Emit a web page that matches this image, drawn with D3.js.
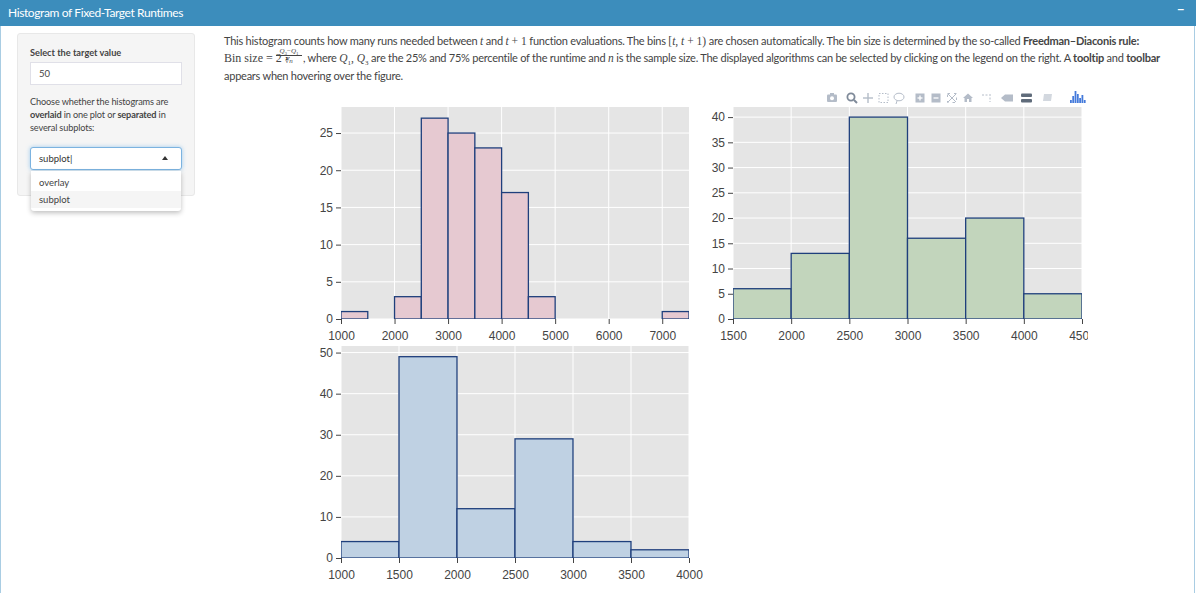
<!DOCTYPE html>
<html>
<head>
<meta charset="utf-8">
<title>Histogram of Fixed-Target Runtimes</title>
<script src="https://d3js.org/d3.v7.min.js"></script>
<style>
  html, body { margin: 0; padding: 0; background: #fff; overflow: hidden; }
  body { width: 1196px; height: 593px; position: relative; font-family: Lato, "Noto Sans", sans-serif; color: #444; font-size: 11px; letter-spacing: -0.24px; }
  .abs { position: absolute; white-space: nowrap; }
  #header { left: 0; top: 0; width: 1196px; height: 26px; background: #3c8dbc; color: #fff; font-size: 12px; line-height: 25px; text-indent: 8px; letter-spacing: -0.39px; }
  #edgeL { left: 0; top: 26px; width: 1px; height: 567px; background: #a9cde3; }
  #edgeR { left: 1194px; top: 26px; width: 1px; height: 567px; background: #a9cde3; }
  #well { left: 17px; top: 33px; width: 176px; height: 161px; background: #f5f5f5; border: 1px solid #e8e8e8; border-radius: 3px; }
  .side { left: 30px; font-size: 9.2px; letter-spacing: -0.15px; }
  .box { left: 30px; width: 150px; height: 21px; background: #fff; border: 1px solid #e0e0e8; line-height: 21px; text-indent: 8px; font-size: 9.5px; box-sizing: content-box; letter-spacing: 0; }
  #sel { top: 147px; border: 1px solid #7cb3e0; border-radius: 3px; box-shadow: 0 0 4px rgba(102,175,233,.6); color: #333; }
  #drop { left: 31px; top: 171px; width: 150px; height: 40px; background: #fff; box-shadow: 0 2px 5px rgba(0,0,0,.25); font-size: 9.5px; border-radius: 0 0 3px 3px; letter-spacing: 0; }
  .math { font-family: "Liberation Serif", serif; font-size: 11.5px; letter-spacing: 0; }
  .math sub { font-size: 7px; line-height: 0; }
  svg.plot { position: absolute; overflow: hidden; }
  svg.plot text { font-family: "Liberation Sans", Arial, sans-serif; font-size: 12px; fill: #444; letter-spacing: 0; }
  #tools { left: 0; top: 0; }
  .frac { position: absolute; text-align: center; font-family: "Liberation Serif", serif; font-size: 7px; line-height: 7px; letter-spacing: 0; }
  .frac sub { font-size: 5px; line-height: 0; }
</style>
</head>
<body>
<div class="abs" id="header">Histogram of Fixed-Target Runtimes</div>
<div style="position:absolute;left:1177px;top:1px;color:#fff;font-size:13px;font-weight:bold">−</div>
<div class="abs" id="edgeL"></div>
<div class="abs" id="edgeR"></div>
<div class="abs" id="well"></div>
<div class="abs side" style="top:47px;letter-spacing:0"><b>Select the target value</b></div>
<div class="abs box" style="top:62px">50</div>
<div class="abs side" style="top:96px">Choose whether the histograms are</div>
<div class="abs side" style="top:109px"><b>overlaid</b> in one plot or <b>separated</b> in</div>
<div class="abs side" style="top:122px">several subplots:</div>
<div class="abs box" id="sel">subplot|</div>
<div style="position:absolute;left:162px;top:156px;width:0;height:0;border-left:3.5px solid transparent;border-right:3.5px solid transparent;border-bottom:4px solid #333"></div>
<div class="abs" id="drop">
  <div style="height:20px;line-height:24px;text-indent:8px">overlay</div>
  <div style="height:17px;line-height:17px;text-indent:8px;background:#f5f5f5">subplot</div>
</div>
<div class="abs" id="l1" style="left:224px;top:34px">This histogram counts how many runs needed between <span class="math"><i>t</i></span> and <span class="math"><i>t</i> + 1</span> function evaluations. The bins <span class="math">[<i>t</i>, <i>t</i> + 1)</span> are chosen automatically. The bin size is determined by the so-called <b>Freedman–Diaconis rule:</b></div>
<div class="abs math" style="left:224px;top:51px;font-size:12px">Bin size = 2</div>
<div class="frac" style="left:276px;top:48px;width:26px;height:7px;border-bottom:1px solid #444"><i>Q</i><sub>3</sub>−<i>Q</i><sub>1</sub></div>
<div class="frac" style="left:276px;top:58px;width:26px">∛<i>n</i></div>
<div class="abs" id="l2" style="left:303px;top:51px">, where <span class="math"><i>Q</i><sub>1</sub>, <i>Q</i><sub>3</sub></span> are the 25% and 75% percentile of the runtime and <span class="math"><i>n</i></span> is the sample size. The displayed algorithms can be selected by clicking on the legend on the right. A <b>tooltip</b> and <b>toolbar</b></div>
<div class="abs" id="l3" style="left:224px;top:69px">appears when hovering over the figure.</div>
<svg id="tools" class="plot" width="1196" height="120"></svg>

<script>
// histogram bins
const binStartA = [1000, 2000, 2500, 3000, 3500, 4000, 4500, 7000];
const countsA = [1, 3, 27, 25, 23, 17, 3, 1];
const xTicksA = [1000, 2000, 3000, 4000, 5000, 6000, 7000];
const yTicksA = [0, 5, 10, 15, 20, 25];

const binStartB = [1500, 2000, 2500, 3000, 3500, 4000];
const countsB = [6, 13, 40, 16, 20, 5];
const xTicksB = [1500, 2000, 2500, 3000, 3500, 4000, 4500];
const yTicksB = [0, 5, 10, 15, 20, 25, 30, 35, 40];

const binStartC = [1000, 1500, 2000, 2500, 3000, 3500];
const countsC = [4, 49, 12, 29, 4, 2];
const xTicksC = [1000, 1500, 2000, 2500, 3000, 3500, 4000];
const yTicksC = [0, 10, 20, 30, 40, 50];

const binSize = 500;

function histogram(cfg) {
    const m = { left: 50, top: 2, bottom: 34 };
    const svg = d3.select("body").append("svg")
        .attr("class", "plot")
        .style("left", (cfg.x - m.left) + "px")
        .style("top", (cfg.y - m.top) + "px")
        .attr("width", m.left + cfg.w + cfg.pad)
        .attr("height", m.top + cfg.h + m.bottom);
    const g = svg.append("g").attr("transform", `translate(${m.left},${m.top})`);

    const x = d3.scaleLinear().domain(cfg.xDomain).range([0, cfg.w]);
    const y = d3.scaleLinear().domain(cfg.yDomain).range([cfg.h, 0]);

    g.append("rect").attr("width", cfg.w).attr("height", cfg.h).attr("fill", "#e5e5e5");

    g.append("g").selectAll("line").data(cfg.xTicks).join("line")
        .attr("x1", d => x(d)).attr("x2", d => x(d))
        .attr("y1", 0).attr("y2", cfg.h)
        .attr("stroke", "#fff");
    g.append("g").selectAll("line").data(cfg.yTicks).join("line")
        .attr("y1", d => y(d)).attr("y2", d => y(d))
        .attr("x1", 0).attr("x2", cfg.w)
        .attr("stroke", "#fff");

    // bars get clipped at the plot area, so the outer edges come out thin
    svg.append("clipPath").attr("id", cfg.id)
        .append("rect").attr("width", cfg.w).attr("height", cfg.h);
    g.append("g").attr("clip-path", `url(#${cfg.id})`)
        .selectAll("rect").data(cfg.starts).join("rect")
        .attr("x", d => x(d))
        .attr("width", d => x(d + binSize) - x(d))
        .attr("y", (d, i) => y(cfg.counts[i]))
        .attr("height", (d, i) => y(0) - y(cfg.counts[i]))
        .attr("fill", cfg.fill)
        .attr("stroke", "#1f3f7c")
        .attr("stroke-width", 1.3);

    const xAxis = g.append("g").attr("transform", `translate(0,${cfg.h})`)
        .call(d3.axisBottom(x).tickValues(cfg.xTicks).tickFormat(d3.format("d")).tickSize(5).tickPadding(7));
    const yAxis = g.append("g")
        .call(d3.axisLeft(y).tickValues(cfg.yTicks).tickSize(5).tickPadding(3));
    xAxis.select(".domain").remove();
    yAxis.select(".domain").remove();
    g.selectAll(".tick line").attr("stroke", "#444");
}

histogram({ id: "clipA", x: 341, y: 107, w: 348, h: 212, pad: 20, xDomain: [1000, 7500], yDomain: [0, 28.5],
    starts: binStartA, counts: countsA, xTicks: xTicksA, yTicks: yTicksA, fill: "#e6c9d1" });
histogram({ id: "clipB", x: 733, y: 107, w: 349, h: 212, pad: 6, xDomain: [1500, 4500], yDomain: [0, 42],
    starts: binStartB, counts: countsB, xTicks: xTicksB, yTicks: yTicksB, fill: "#c2d5bc" });
histogram({ id: "clipC", x: 341, y: 346, w: 348, h: 212, pad: 20, xDomain: [1000, 4000], yDomain: [0, 51.6],
    starts: binStartC, counts: countsC, xTicks: xTicksC, yTicks: yTicksC, fill: "#bfd1e3" });

// modebar icons
const tools = d3.select("#tools");
const ic = "#b4bcc8";
const camera = tools.append("g").attr("transform", "translate(832,98)");
camera.append("rect").attr("x", -5).attr("y", -3.5).attr("width", 10).attr("height", 7.5).attr("rx", 1).attr("fill", ic);
camera.append("rect").attr("x", -2).attr("y", -5).attr("width", 4).attr("height", 2).attr("fill", ic);
camera.append("circle").attr("r", 2).attr("cy", 0.3).attr("fill", "#fff");
const zoomI = tools.append("g").attr("transform", "translate(852,98)");
zoomI.append("circle").attr("cx", -1).attr("cy", -1).attr("r", 3.6).attr("fill", "none").attr("stroke", "#7f8a99").attr("stroke-width", 1.8);
zoomI.append("line").attr("x1", 2).attr("y1", 2).attr("x2", 5).attr("y2", 5).attr("stroke", "#7f8a99").attr("stroke-width", 2);
const pan = tools.append("g").attr("transform", "translate(868,98)").attr("stroke", ic).attr("stroke-width", 1.4);
pan.append("line").attr("x1", -5).attr("x2", 5);
pan.append("line").attr("y1", -5).attr("y2", 5);
tools.append("rect").attr("x", 879).attr("y", 93.5).attr("width", 9).attr("height", 9).attr("fill", "none").attr("stroke", ic).attr("stroke-dasharray", "1.5 1.5");
tools.append("ellipse").attr("cx", 899).attr("cy", 97).attr("rx", 5).attr("ry", 3.8).attr("fill", "none").attr("stroke", ic);
tools.append("line").attr("x1", 897).attr("y1", 101).attr("x2", 896).attr("y2", 104).attr("stroke", ic);
[[920, true], [936, false]].forEach(([cx, plus]) => {
    const b = tools.append("g").attr("transform", `translate(${cx},98)`);
    b.append("rect").attr("x", -4.5).attr("y", -4.5).attr("width", 9).attr("height", 9).attr("fill", ic);
    b.append("line").attr("x1", -2.5).attr("x2", 2.5).attr("stroke", "#fff").attr("stroke-width", 1.3);
    if (plus) b.append("line").attr("y1", -2.5).attr("y2", 2.5).attr("stroke", "#fff").attr("stroke-width", 1.3);
});
const auto = tools.append("g").attr("transform", "translate(952,98)").attr("stroke", ic);
auto.append("line").attr("x1", -4).attr("y1", -4).attr("x2", 4).attr("y2", 4);
auto.append("line").attr("x1", 4).attr("y1", -4).attr("x2", -4).attr("y2", 4);
auto.append("rect").attr("x", -4.5).attr("y", -4.5).attr("width", 9).attr("height", 9).attr("fill", "none").attr("stroke-dasharray", "2.5 4");
tools.append("path").attr("fill", ic).attr("transform", "translate(968,98)").attr("d", "M-5 0L0-4.5 5 0H3.5V4H1V1H-1V4H-3.5V0Z");
const spike = tools.append("g").attr("transform", "translate(987,98)").attr("stroke", ic);
spike.append("line").attr("x1", -5).attr("x2", 2).attr("y1", -3).attr("y2", -3).attr("stroke-dasharray", "2 1.5");
spike.append("line").attr("x1", 3).attr("x2", 3).attr("y1", -4).attr("y2", 4).attr("stroke-dasharray", "2 1.5");
tools.append("path").attr("fill", ic).attr("transform", "translate(1007,98)").attr("d", "M-6 0L-2-3.5H6V3.5H-2Z");
tools.append("rect").attr("x", 1021).attr("y", 93.5).attr("width", 11).attr("height", 3.6).attr("rx", 1).attr("fill", "#5f6b7a");
tools.append("rect").attr("x", 1021).attr("y", 99).attr("width", 11).attr("height", 3.6).attr("rx", 1).attr("fill", "#5f6b7a");
tools.append("path").attr("fill", "#d3d8df").attr("transform", "translate(1047,98)").attr("d", "M-3-4H5L4 3H-4Z");
tools.selectAll("rect.logo").data([3, 7, 12, 9, 5, 8, 3]).join("rect")
    .attr("class", "logo")
    .attr("x", (d, i) => 1070 + i * 2.3)
    .attr("y", d => 103 - d)
    .attr("width", 1.8)
    .attr("height", d => d)
    .attr("fill", "#447adb");
</script>
</body>
</html>
